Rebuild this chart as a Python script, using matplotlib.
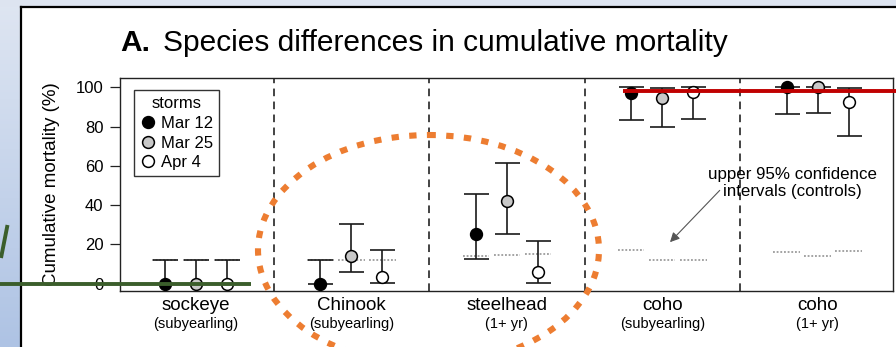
import numpy as np
import matplotlib
matplotlib.use("Agg")
import matplotlib.pyplot as plt
from matplotlib.patches import Ellipse, Rectangle
from matplotlib.lines import Line2D
from matplotlib.colors import LinearSegmentedColormap

plt.rcParams['font.family'] = ['Liberation Sans', 'DejaVu Sans']

# ---------------- data ----------------
species = ["sockeye", "Chinook", "steelhead", "coho", "coho"]
ages = ["(subyearling)", "(subyearling)", "(1+ yr)", "(subyearling)", "(1+ yr)"]
storms = ["Mar 12", "Mar 25", "Apr 4"]

mar12 = [0, 0, 25.5, 97, 100]
mar12_lo = [0, 0, 12.3, 83.6, 86.5]
mar12_hi = [12, 12, 45.6, 100, 100]

mar25 = [0, 13.8, 42.3, 94.4, 100]
mar25_lo = [0, 5.8, 25.1, 79.7, 87]
mar25_hi = [12, 30.2, 61.4, 99.6, 100]

apr4 = [0, 3.4, 5.9, 97.6, 92.5]
apr4_lo = [0, 0.5, 0.5, 84.1, 75]
apr4_hi = [12, 17, 21.5, 100, 99.5]

ctrl_mar12 = [12, 12, 14.1, 17, 16.2]
ctrl_mar25 = [12, 12, 14.5, 11.8, 14]
ctrl_apr4 = [12, 12, 15, 11.8, 16.7]

yticks = [0, 20, 40, 60, 80, 100]

# ---------------- figure ----------------
W, H = 896, 347
fig = plt.figure(figsize=(W / 100, H / 100), dpi=100)
fig.patch.set_facecolor("white")

# slide background
bg = fig.add_axes([0, 0, 1, 1], zorder=-5)
bg.set_xlim(0, W)
bg.set_ylim(H, 0)
bg.axis("off")
grad = np.linspace(0, 1, 256).reshape(-1, 1)
cmap = LinearSegmentedColormap.from_list("bl", ["#dfe6f2", "#aec3e4"])
bg.imshow(grad, cmap=cmap, extent=[0, 20.5, H, 0], aspect="auto", zorder=0)
bg.add_patch(Rectangle((0, 0), W, 7, color="#dde4f0", zorder=1, lw=0))
bg.add_patch(Rectangle((20.5, 7), W, H, facecolor="white", edgecolor="none", zorder=2))
bg.plot([20.5, 20.5], [7, H], color="black", lw=1.6, zorder=3)
bg.plot([20.5, W], [7, 7], color="black", lw=1.6, zorder=3)

# main axes
ax = fig.add_axes([120 / W, (H - 291) / H, (893 - 120) / W, (291 - 78) / H], zorder=1)
ax.set_xlim(0.511, 5.485)
ax.set_ylim(-3.8, 104.8)
for s in ax.spines.values():
    s.set_linewidth(1.0)
    s.set_color("#222222")
ax.set_xticks([])
ax.set_yticks(yticks)
ax.tick_params(axis="y", length=7, width=0.9, pad=5, labelsize=12, color="#222222")
ax.set_ylabel("Cumulative mortality (%)", fontsize=13.5, labelpad=11)

x = np.arange(1, 6)
off = 0.2
series = [
    (mar12, mar12_lo, mar12_hi, ctrl_mar12, "black", -off),
    (mar25, mar25_lo, mar25_hi, ctrl_mar25, "#c8c8c8", 0.0),
    (apr4, apr4_lo, apr4_hi, ctrl_apr4, "white", off),
]
for vals, lo, hi, ctrl, fc, dx in series:
    v = np.array(vals, float)
    yerr = np.vstack([v - np.array(lo, float), np.array(hi, float) - v])
    xs = x + dx
    ax.hlines(ctrl, xs - 0.085, xs + 0.085, colors="#8a8a8a", linestyles=(0, (1.2, 1.2)), lw=1.1, zorder=2)
    ax.errorbar(xs, v, yerr=yerr, fmt="none", ecolor="#1a1a1a", elinewidth=1.2,
                capsize=9, capthick=1.2, zorder=3)
    ax.plot(xs, v, "o", ms=8.5, mfc=fc, mec="black", mew=1.1, zorder=4, clip_on=False)

for d in [1.5, 2.5, 3.5, 4.5]:
    ax.axvline(d, color="#111111", lw=1.1, ls=(0, (5, 3.5)), zorder=1)

for xi, sp, ag in zip(x, species, ages):
    ax.text(xi, -0.067, sp, transform=ax.get_xaxis_transform(), ha="center", va="center", fontsize=13.5)
    ax.text(xi, -0.157, ag, transform=ax.get_xaxis_transform(), ha="center", va="center", fontsize=10.5)

handles = [Line2D([], [], marker="o", ls="none", ms=8.5, mfc=c, mec="black", mew=1.1)
           for c in ["black", "#c8c8c8", "white"]]
leg = ax.legend(handles, storms, title="storms", loc="upper left",
                bbox_to_anchor=(0.018, 0.942), fontsize=12, title_fontsize=12,
                frameon=True, fancybox=False, handlelength=1.0, handletextpad=0.3,
                borderpad=0.35, labelspacing=0.28, borderaxespad=0)
leg.get_frame().set_edgecolor("black")
leg.get_frame().set_linewidth(1.0)

ax.text(4.84, 51.3, "upper 95% confidence\nintervals (controls)",
        ha="center", va="center", fontsize=12.2, linespacing=1.1)
ax.annotate("", xy=(4.05, 21.1), xytext=(4.37, 47.5),
            arrowprops=dict(arrowstyle="-|>", color="#555555", lw=0.8,
                            shrinkA=0, shrinkB=0, mutation_scale=14))

# title
fig.text(120 / W, (H - 43) / H, "A.", fontsize=21.5, fontweight="bold", va="center", ha="left")
fig.text(163 / W, (H - 43) / H, "Species differences in cumulative mortality", fontsize=21.5,
         va="center", ha="left")

# overlay annotations (slide drawings)
ov = fig.add_axes([0, 0, 1, 1], zorder=10)
ov.set_xlim(0, W)
ov.set_ylim(H, 0)
ov.axis("off")
ov.patch.set_alpha(0)
ov.add_patch(Ellipse((428.5, 250), 341, 230, fill=False, edgecolor="#ED7D31", lw=4.4,
                     linestyle=(0, (1.2, 1.7)), capstyle="butt"))
ov.plot([0, 251], [283.5, 283.5], color="#3b5e2b", lw=2.8, solid_capstyle="butt")
ov.plot([623, W], [90.7, 90.7], color="#c00000", lw=2.8, solid_capstyle="butt")
ov.plot([7.5, 1], [225, 258], color="#3b5e2b", lw=2.8, solid_capstyle="butt")

fig.savefig("out.png", dpi=100)
